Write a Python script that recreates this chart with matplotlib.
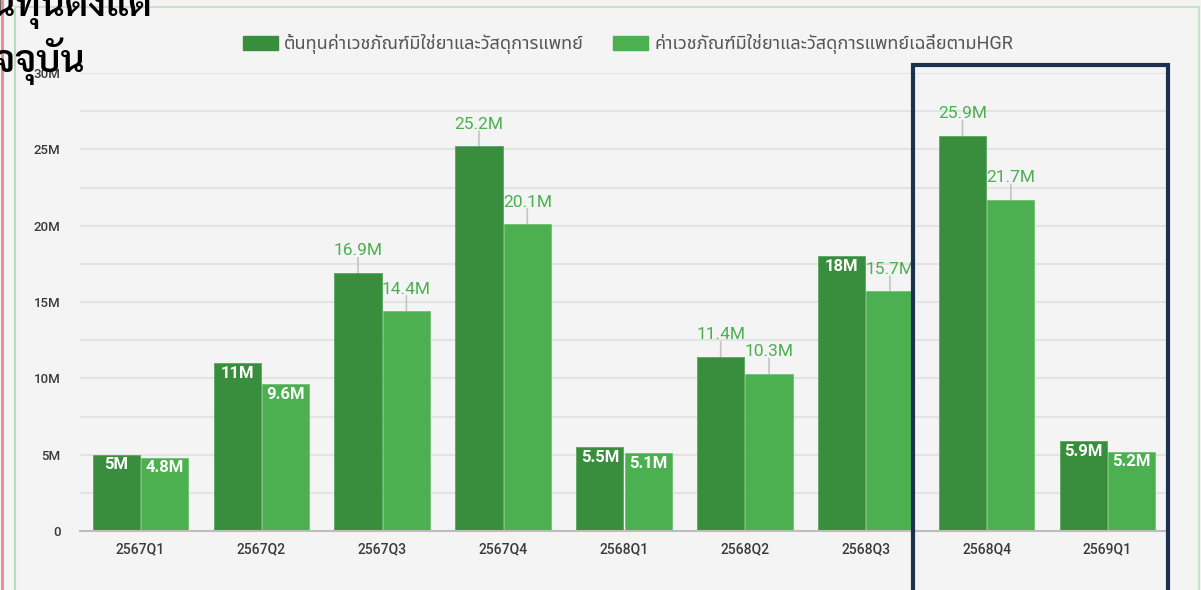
import matplotlib
matplotlib.use("Agg")
import matplotlib.pyplot as plt
from matplotlib import font_manager as fm
from matplotlib.patches import Rectangle, Patch
from matplotlib.lines import Line2D
import numpy as np

# data
quarters = ["2567Q1", "2567Q2", "2567Q3", "2567Q4", "2568Q1", "2568Q2", "2568Q3", "2568Q4", "2569Q1"]
cost = [5.0, 11.0, 16.9, 25.2, 5.5, 11.4, 18.0, 25.9, 5.9]
cost_hgr = [4.8, 9.6, 14.4, 20.1, 5.1, 10.3, 15.7, 21.7, 5.2]
series_names = ["ต้นทุนค่าเวชภัณฑ์มิใช่ยาและวัสดุการแพทย์",
                "ค่าเวชภัณฑ์มิใช่ยาและวัสดุการแพทย์เฉลี่ยตามHGR"]
title_lines = ["ต้นทุนตั้งแต่", "ปัจจุบัน"]

# label placement (True = inside bar)
cost_inside = [True, True, False, False, True, False, True, False, True]
hgr_inside = [True, True, False, False, True, False, False, False, True]

# pick thai fonts (one with a real bold face for the title)
names = {f.name for f in fm.fontManager.ttflist}
bold_names = {f.name for f in fm.fontManager.ttflist
              if (isinstance(f.weight, int) and f.weight >= 600) or f.weight in ("semibold", "demibold", "bold")}
thai = "DejaVu Sans"
for cand in ["Noto Sans Thai", "Sarabun", "Prompt", "Kanit", "Bai Jamjuree", "Athiti"]:
    if cand in names:
        thai = cand
        break
thai_bold = thai
for cand in ["Noto Sans Thai", "Sarabun", "Prompt", "Kanit", "Bai Jamjuree", "Athiti"]:
    if cand in bold_names:
        thai_bold = cand
        break
plt.rcParams["font.family"] = ["Roboto", thai, "DejaVu Sans"]

DARK = "#388e3c"
LIGHT = "#4caf50"
BG = "#f4f4f4"

W, H = 1201, 590
fig = plt.figure(figsize=(W / 100, H / 100), dpi=100, facecolor=BG)
ax = fig.add_axes([80 / W, (H - 531) / H, 1088 / W, (531 - 73) / H])
ax.set_facecolor(BG)

x = np.arange(len(quarters))
bw = 0.39
b1 = ax.bar(x - 0.2, cost, bw, color=DARK, edgecolor="#5aa65d", linewidth=0.6, zorder=3)
b2 = ax.bar(x + 0.2, cost_hgr, bw, color=LIGHT, edgecolor="#72c075", linewidth=0.6, zorder=3)

ax.set_xlim(-0.5, len(quarters) - 0.5)
ax.set_ylim(0, 30)
yt = np.arange(0, 30.1, 2.5)
ax.set_yticks(yt)
ax.set_yticklabels(["0" if v == 0 else (f"{int(v)}M" if v % 5 == 0 else "") for v in yt])
ax.grid(axis="y", color="#e3e3e3", linewidth=1.5, zorder=0)
ax.set_xticks(x)
ax.set_xticklabels(quarters)
ax.tick_params(axis="both", length=0, colors="#3a3a3a")
ax.tick_params(axis="y", pad=14, labelsize=9.5)
ax.tick_params(axis="x", pad=8, labelsize=10)
for lab in ax.get_xticklabels() + ax.get_yticklabels():
    lab.set_fontweight("medium")
for s in ["top", "right", "left"]:
    ax.spines[s].set_visible(False)
ax.spines["bottom"].set_color("#bdbdbd")
ax.spines["bottom"].set_linewidth(1.5)
ax.spines["bottom"].set_zorder(4)


def fmt(v):
    return f"{v:g}M"


def label_bars(bars, vals, inside):
    for rect, v, ins in zip(bars, vals, inside):
        cx = rect.get_x() + rect.get_width() / 2
        if ins:
            ax.annotate(fmt(v), (cx, v), xytext=(0, -2), textcoords="offset points",
                        ha="center", va="top", color="white", fontsize=12,
                        fontweight="bold", zorder=5)
        else:
            ax.annotate("", (cx, v), xytext=(0, 11), textcoords="offset points",
                        arrowprops=dict(arrowstyle="-", color="#c4c4c4", lw=1.2,
                                        shrinkA=0, shrinkB=0), zorder=2)
            ax.annotate(fmt(v), (cx, v), xytext=(0, 10.5), textcoords="offset points",
                        ha="center", va="bottom", color=LIGHT, fontsize=12.5, zorder=5)


label_bars(b1, cost, cost_inside)
label_bars(b2, cost_hgr, hgr_inside)

# legend
handles = [Patch(facecolor=DARK, edgecolor=DARK), Patch(facecolor=LIGHT, edgecolor=LIGHT)]
fig.legend(handles, series_names, loc="center", bbox_to_anchor=(628 / W, 1 - 44 / H),
           ncol=2, frameon=False, fontsize=13, labelcolor="#555555",
           handlelength=1.95, handleheight=0.8, handletextpad=0.35, columnspacing=1.6)

# panel borders
fig.add_artist(Line2D([15 / W, 15 / W], [0, 1 - 7 / H], color="#b9dcb9", lw=1.5))
fig.add_artist(Line2D([15 / W, 1199 / W], [1 - 7 / H, 1 - 7 / H], color="#c9e3c9", lw=1.5))
fig.add_artist(Line2D([1199 / W, 1199 / W], [0, 1 - 7 / H], color="#c9e3c9", lw=1.5))
fig.add_artist(Line2D([2 / W, 2 / W], [0, 1], color="#e88a8a", lw=2))

# highlight box around last two quarters
fig.add_artist(Rectangle((913 / W, -0.05), (1168 - 913) / W, (H - 65) / H + 0.05,
                         transform=fig.transFigure, fill=False, edgecolor="#1b3150",
                         lw=3, zorder=10))

# cropped title at the top left
fig.text(153 / W, 1 - 16 / H, title_lines[0], ha="right", va="baseline", fontsize=27,
         fontweight="semibold", color="black", family=[thai_bold, "DejaVu Sans"])
fig.text(85 / W, 1 - 72 / H, title_lines[1], ha="right", va="baseline", fontsize=27,
         fontweight="semibold", color="black", family=[thai_bold, "DejaVu Sans"])

fig.savefig("out.png", dpi=100, facecolor=BG)
